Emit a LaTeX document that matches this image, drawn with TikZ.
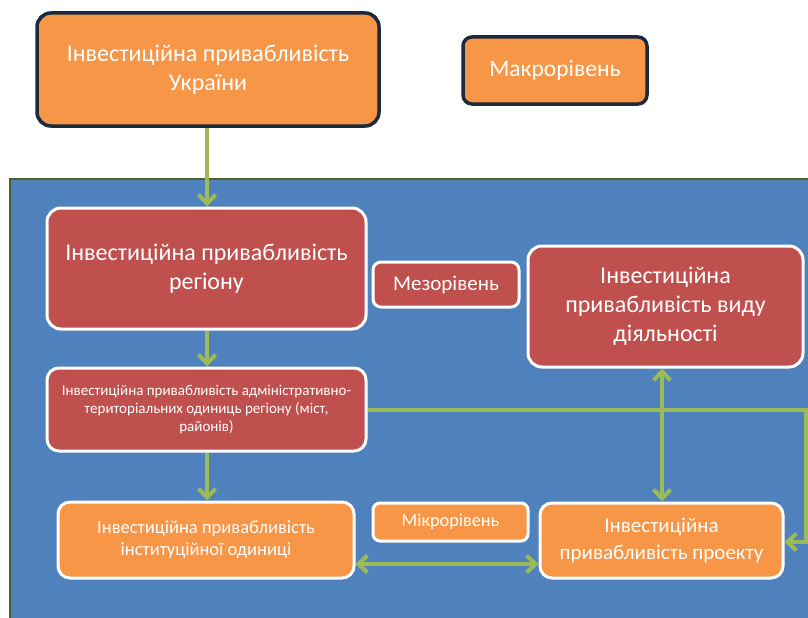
\documentclass[tikz,border=0pt]{standalone}
\usepackage{fontspec}
\setmainfont{Carlito}
\usetikzlibrary{arrows.meta}
\definecolor{orng}{HTML}{F79646}
\definecolor{redb}{HTML}{C0504D}
\definecolor{blueb}{HTML}{4F81BD}
\definecolor{grn}{HTML}{9BBB59}
\definecolor{darkb}{HTML}{1B2A3C}
\definecolor{oliveb}{HTML}{4F6228}
\tikzset{
  box/.style={rectangle, rounded corners=14pt, text=white, align=center, inner sep=0pt},
  topbox/.style={box, fill=orng, draw=darkb, line width=3.5pt},
  redbox/.style={box, fill=redb, draw=white, line width=3pt},
  orbox/.style={box, fill=orng, draw=white, line width=3pt},
  gtip/.tip={Straight Barb[length=9pt,width=17pt,line width=4pt]},
  garrow/.style={draw=grn, line width=4pt, -gtip},
  gdouble/.style={draw=grn, line width=4pt, gtip-gtip},
}
\begin{document}
\begin{tikzpicture}[x=1pt,y=-1pt]
\useasboundingbox (0,0) rectangle (808,618);
\fill[white] (0,0) rectangle (808,618);
\fill[blueb] (10,179) rectangle (812,622);
\draw[oliveb, line width=2pt] (812,179) -- (10,179) -- (10,622);

\node[topbox, minimum width=342pt, minimum height=113pt, font=\fontsize{24}{28.5}\selectfont] (ukr) at (208,69.5) {Інвестиційна привабливість\\України};
\node[topbox, rounded corners=9pt, minimum width=184pt, minimum height=67pt, font=\fontsize{23.5}{26}\selectfont] (macro) at (555,70.5) {Макрорівень};

\node[redbox, minimum width=319pt, minimum height=121pt, font=\fontsize{24}{29.5}\selectfont] (reg) at (206.5,268.5) {Інвестиційна привабливість\\регіону};
\node[redbox, rounded corners=8pt, minimum width=146pt, minimum height=45pt, font=\fontsize{21}{24}\selectfont] (meso) at (446,284.5) {Мезорівень};
\node[redbox, minimum width=275pt, minimum height=121pt, font=\fontsize{24}{29}\selectfont] (vid) at (665.5,306.5) {Інвестиційна\\привабливість виду\\діяльності};

\node[redbox, rounded corners=12pt, minimum width=319pt, minimum height=83pt, font=\fontsize{15}{18}\selectfont] (atu) at (206.5,409.5) {Інвестиційна привабливість адміністративно-\\територіальних одиниць регіону (міст,\\районів)};

\node[orbox, rounded corners=12pt, minimum width=296pt, minimum height=76pt, font=\fontsize{18.5}{22}\selectfont] (inst) at (206,540) {Інвестиційна привабливість\\інституційної одиниці};
\node[orbox, rounded corners=7pt, minimum width=155pt, minimum height=38pt, font=\fontsize{18.3}{21}\selectfont] (micro) at (450.5,522) {Мікрорівень};
\node[orbox, rounded corners=12pt, minimum width=243pt, minimum height=75pt, font=\fontsize{21}{26.5}\selectfont] (proj) at (661.5,540.5) {Інвестиційна\\привабливість проекту};

\coordinate (rc) at (806,409.5);
\draw[garrow] ([xshift=-1pt]ukr.south) -- ([xshift=-1pt]ukr.south |- reg.north);
\draw[garrow] ([xshift=0.5pt]reg.south) -- ([xshift=0.5pt]reg.south |- atu.north);
\draw[garrow] ([xshift=0.5pt]atu.south) -- ([xshift=0.5pt]atu.south |- inst.north);
\draw[garrow] (atu.east) -- (rc) |- ([yshift=-1.5pt]proj.east);
\draw[gdouble] ([xshift=0.5pt]proj.north) -- ([xshift=0.5pt]proj.north |- vid.south);
\draw[gdouble] ([yshift=-24pt]inst.east) -- ([yshift=-24pt]inst.east -| proj.west);
\end{tikzpicture}
\end{document}
